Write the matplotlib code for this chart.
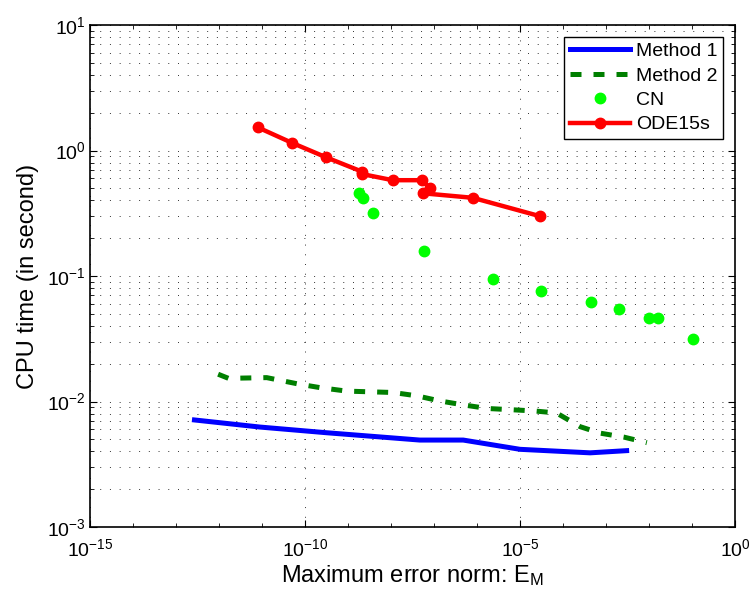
import numpy as np
import matplotlib
matplotlib.use('Agg')
from matplotlib import pyplot as plt
from matplotlib.ticker import LogLocator, NullFormatter

plt.rcParams['font.family'] = ['Liberation Sans', 'DejaVu Sans']
plt.rcParams['mathtext.fontset'] = 'custom'
plt.rcParams['mathtext.rm'] = 'Liberation Sans'
plt.rcParams['mathtext.it'] = 'Liberation Sans'
plt.rcParams['mathtext.default'] = 'regular'

# Method 1 (linha azul)
m1_err = [10**-12.57, 10**-11.05, 10**-9.50, 10**-7.33, 10**-6.32, 10**-5.0, 10**-3.37, 10**-2.52]
m1_cpu = [0.00713, 0.00626, 0.00564, 0.00493, 0.00493, 0.00416, 0.0039, 0.00406]

# Method 2 (tracejada verde)
m2_err = [10**-12.02, 10**-11.78, 10**-10.89, 10**-10.16, 10**-9.65, 10**-9.03, 10**-7.95,
          10**-7.40, 10**-6.86, 10**-6.32, 10**-5.76, 10**-5.19, 10**-4.65, 10**-4.15,
          10**-3.60, 10**-3.14, 10**-2.58, 10**-2.05]
m2_cpu = [0.0165, 0.0153, 0.0155, 0.0138, 0.0129, 0.0121, 0.0118,
          0.0111, 0.0101, 0.0094, 0.0088, 0.0086, 0.0084, 0.0081,
          0.0063, 0.0056, 0.0052, 0.0047]

# Crank-Nicolson
cn_err = [10**-8.74, 10**-8.64, 10**-8.41, 10**-7.23, 10**-5.62, 10**-4.52,
          10**-3.36, 10**-2.69, 10**-1.99, 10**-1.78, 10**-0.97]
cn_cpu = [0.46, 0.42, 0.32, 0.157, 0.094, 0.0758, 0.0624, 0.0543, 0.0466, 0.0466, 0.0316]

# ODE15s
ode_err = [10**-11.10, 10**-10.30, 10**-9.50, 10**-8.68, 10**-8.68, 10**-7.96,
           10**-7.29, 10**-7.09, 10**-7.25, 10**-6.10, 10**-4.54]
ode_cpu = [1.53, 1.15, 0.88, 0.68, 0.65, 0.58, 0.58, 0.50, 0.456, 0.42, 0.30]

fig = plt.figure(figsize=(7.51, 6.01), dpi=100)
ax = fig.add_axes([0.1198, 0.1231, 0.8589, 0.8353])

ax.plot(m1_err, m1_cpu, color='#0000ff', lw=3.6, label='Method 1')
ax.plot(m2_err, m2_cpu, color='#007f00', lw=3.6, dashes=(2.2, 2.4), label='Method 2')
ax.plot(cn_err, cn_cpu, 'o', color='#00ff00', ms=7.5, mec='#00ff00', label='CN')
ax.plot(ode_err, ode_cpu, '-o', color='#ff0000', lw=3.2, ms=7.5, label='ODE15s')

ax.set_xscale('log')
ax.set_yscale('log')
ax.set_xlim(1e-15, 1e0)
ax.set_ylim(1e-3, 1e1)
ax.set_xticks([1e-15, 1e-10, 1e-5, 1e0])
ax.xaxis.set_minor_locator(LogLocator(base=10, subs=(1.0,), numticks=30))
ax.xaxis.set_minor_formatter(NullFormatter())
ax.yaxis.set_minor_locator(LogLocator(base=10, subs=np.arange(2, 10), numticks=30))
ax.yaxis.set_minor_formatter(NullFormatter())

ax.tick_params(which='both', direction='in', top=True, right=True, labelsize=14)
ax.tick_params(which='major', length=5, width=0.8)
ax.tick_params(which='minor', length=3, width=0.6)
ax.tick_params(axis='x', which='major', pad=8)
ax.tick_params(axis='y', which='major', pad=3)

ax.grid(True, which='major', axis='both', color='0.2', lw=0.7, dashes=(1, 9))
ax.grid(True, which='minor', axis='y', color='0.2', lw=0.7, dashes=(1, 9))
ax.set_axisbelow(True)
for s in ax.spines.values():
    s.set_linewidth(1.2)

ax.set_xlabel('Maximum error norm: E$_M$', fontsize=17, labelpad=2)
ax.set_ylabel('CPU time (in second)', fontsize=17, labelpad=6)

leg = ax.legend(loc='upper right', fontsize=14, fancybox=False, framealpha=1,
                edgecolor='black', handlelength=3.1, borderaxespad=0.6,
                labelspacing=0.35, handletextpad=0.3, borderpad=0.3)
leg.get_frame().set_linewidth(1.0)

fig.savefig('out.png', dpi=100)
